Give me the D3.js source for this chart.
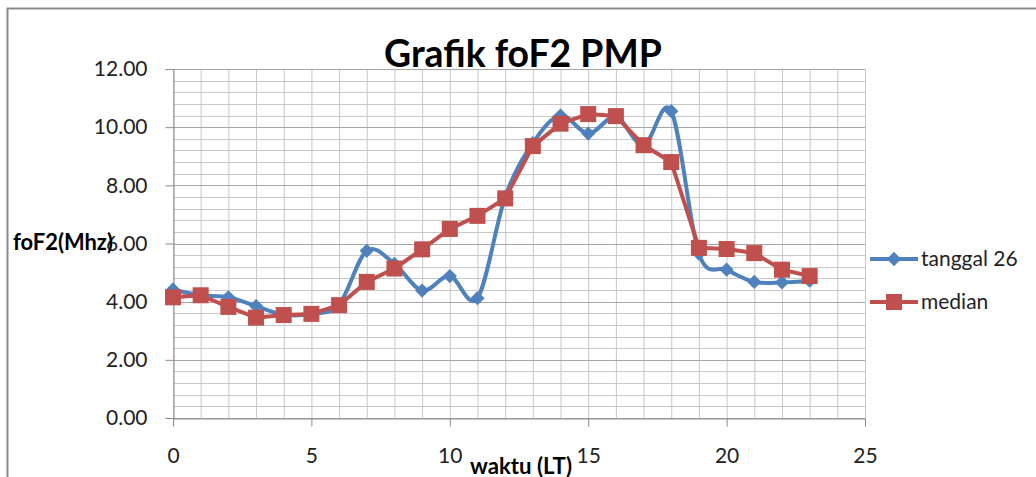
<!DOCTYPE html>
<html><head><meta charset="utf-8">
<script src="https://cdn.jsdelivr.net/npm/d3@7"></script>
<style>body{margin:0;background:#fff;} svg{display:block;}</style>
</head><body>
<svg id="c" width="1036" height="477"></svg>
<script>
const hours = [0,1,2,3,4,5,6,7,8,9,10,11,12,13,14,15,16,17,18,19,20,21,22,23];
const tanggal26 = [4.42,4.22,4.15,3.85,3.55,3.58,3.90,5.75,5.30,4.38,4.88,4.12,7.60,9.45,10.40,9.78,10.35,9.38,10.55,5.65,5.10,4.68,4.66,4.72];
const median = [4.15,4.22,3.82,3.45,3.54,3.58,3.88,4.68,5.14,5.80,6.50,6.95,7.55,9.35,10.12,10.45,10.38,9.38,8.80,5.85,5.81,5.67,5.10,4.88];
const xTicks = [0,5,10,15,20,25];
const yTicks = [0,2,4,6,8,10,12];
const seriesNames = ["tanggal 26","median"];
const colors = ["#4F81BD","#C0504D"];

const svg = d3.select("#c");
const L=173,R=865,T=69,B=418;
const x = d3.scaleLinear().domain([0,25]).range([L,R]);
const y = d3.scaleLinear().domain([0,12]).range([B,T]);
const font = "Lato, 'Open Sans', sans-serif";

// outer border
svg.append("path").attr("d","M7.5,477 L7.5,8.5 L1036,8.5").attr("fill","none").attr("stroke","#8a8a8a").attr("stroke-width",2);

// grid
const g = svg.append("g");
d3.range(0,25.01,1).forEach(v=>{
  g.append("line").attr("x1",x(v)+0.5).attr("x2",x(v)+0.5).attr("y1",T).attr("y2",B).attr("stroke","#c8c8c8").attr("stroke-width",1);
});
d3.range(0,12.01,0.4).forEach(v=>{
  const major = Math.abs(v/2-Math.round(v/2))<1e-6;
  g.append("line").attr("x1",L).attr("x2",R).attr("y1",Math.round(y(v))+0.5).attr("y2",Math.round(y(v))+0.5)
   .attr("stroke",major?"#a6a6a6":"#c8c8c8").attr("stroke-width",1);
});

// axes
const yAxis = svg.append("g").attr("transform",`translate(${L+0.5},0)`)
  .call(d3.axisLeft(y).tickValues(yTicks).tickFormat(d3.format(".2f")).tickSize(8).tickPadding(18));
const xAxis = svg.append("g").attr("transform",`translate(0,${B+0.5})`)
  .call(d3.axisBottom(x).tickValues(xTicks).tickFormat(d3.format("d")).tickSize(8).tickPadding(22));
[yAxis,xAxis].forEach(a=>{
  a.select(".domain").attr("stroke","#8c8c8c");
  a.selectAll(".tick line").attr("stroke","#8c8c8c");
  a.selectAll("text").attr("font-family",font).attr("font-size",21).attr("fill","#222");
});

// lines
const blueLine = d3.line().x((d,i)=>x(hours[i])).y(d=>y(d)).curve(d3.curveCatmullRom.alpha(0));
const redLine = d3.line().x((d,i)=>x(hours[i])).y(d=>y(d));
svg.append("path").attr("d",blueLine(tanggal26)).attr("fill","none").attr("stroke",colors[0]).attr("stroke-width",4).attr("stroke-linejoin","round");
const diamond = d3.symbol().type(d3.symbolDiamond2).size(130);
svg.selectAll(".dm").data(tanggal26).join("path").attr("class","dm")
  .attr("transform",(d,i)=>`translate(${x(hours[i])},${y(d)})`).attr("d",diamond).attr("fill",colors[0]);

svg.append("path").attr("d",redLine(median)).attr("fill","none").attr("stroke",colors[1]).attr("stroke-width",4).attr("stroke-linejoin","round");
svg.selectAll(".sq").data(median).join("rect").attr("class","sq")
  .attr("x",(d,i)=>x(hours[i])-8).attr("y",d=>y(d)-8).attr("width",16).attr("height",16).attr("fill",colors[1]);

// title
const title = svg.append("text").attr("x",523).attr("y",67).attr("text-anchor","middle")
  .attr("font-family",font).attr("font-weight","bold").attr("font-size",34).attr("fill","#000").text("Grafik foF2 PMP");
const tw = title.node().getComputedTextLength();
title.attr("font-size",34*278/tw);

// axis titles
const yt = svg.append("text").attr("x",13).attr("y",250).attr("font-family",font).attr("font-weight","bold").attr("font-size",20).attr("fill","#000").text("foF2(Mhz)");
yt.attr("font-size",20*100/yt.node().getComputedTextLength());
const xt = svg.append("text").attr("x",521).attr("y",474).attr("text-anchor","middle").attr("font-family",font).attr("font-weight","bold").attr("font-size",20).attr("fill","#000").text("waktu (LT)");
xt.attr("font-size",20*102/xt.node().getComputedTextLength());

// legend
const leg = svg.append("g");
const ly = [259,302];
seriesNames.forEach((n,i)=>{
  leg.append("line").attr("x1",870).attr("x2",918).attr("y1",ly[i]).attr("y2",ly[i]).attr("stroke",colors[i]).attr("stroke-width",4);
  if(i===0) leg.append("path").attr("transform",`translate(894,${ly[i]})`).attr("d",diamond).attr("fill",colors[0]);
  else leg.append("rect").attr("x",886).attr("y",ly[i]-8).attr("width",16).attr("height",16).attr("fill",colors[1]);
  leg.append("text").attr("x",921).attr("y",ly[i]+7).attr("font-family",font).attr("font-size",21).attr("fill","#222").text(n);
});
</script>
</body></html>
